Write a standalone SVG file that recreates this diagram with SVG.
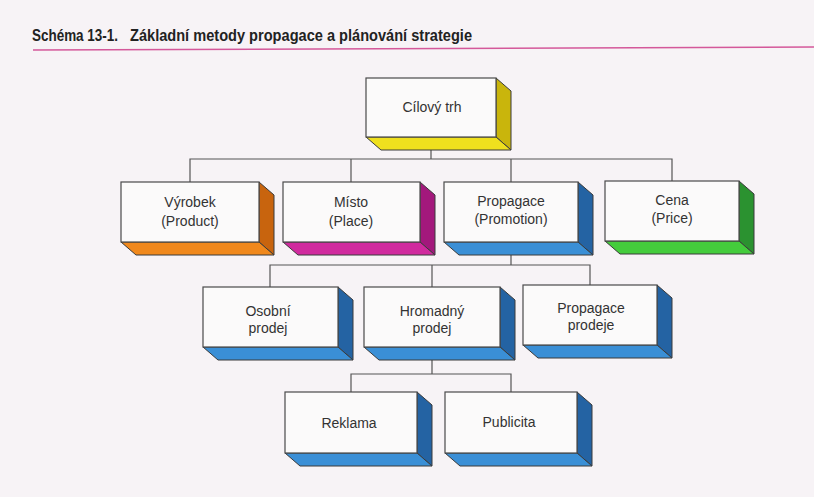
<svg xmlns="http://www.w3.org/2000/svg" width="814" height="497" viewBox="0 0 814 497">
<style>
.front{fill:#fbfafa;stroke:#4a4a4a;stroke-width:1.2}
.side{stroke:#3a3a3a;stroke-width:1;stroke-linejoin:round}
.lbl{font-family:"Liberation Sans",Arial,sans-serif;font-size:14px;fill:#333;text-anchor:middle}
.conn{fill:none;stroke:#555;stroke-width:1.2}
.title{font-family:"Liberation Sans",Arial,sans-serif;font-size:16px;font-weight:bold;fill:#222}
</style>
<rect width="814" height="497" fill="#f7f3f6"/>
<g id="title">
<text class="title" x="32" y="41" textLength="86" lengthAdjust="spacingAndGlyphs">Schéma 13-1.</text>
<text class="title" x="130" y="41" textLength="342" lengthAdjust="spacingAndGlyphs">Základní metody propagace a plánování strategie</text>
<line x1="33" y1="50" x2="814" y2="47" stroke="#d4589a" stroke-width="1.5"/>
</g>
<g id="connectors">
<path class="conn" d="M431 150V159M190 182V159H672V182M351 159V182M511 159V182"/>
<path class="conn" d="M511 255V265M270 287V265H590V285M432 265V287"/>
<path class="conn" d="M432 360V374M351 392V374H511V392"/>
</g>
<g id="cilovy-trh">
<polygon class="side" fill="#c9b50c" points="496,78 511,91 511,150 496,137"/>
<polygon class="side" fill="#efe01e" points="366,137 496,137 511,150 381,150"/>
<rect class="front" x="366" y="78" width="130" height="59"/>
<text class="lbl" x="432" y="112">Cílový trh</text>
</g>
<g id="vyrobek">
<polygon class="side" fill="#c8640e" points="259,182 274,195 274,255 259,242"/>
<polygon class="side" fill="#f0881c" points="121,242 259,242 274,255 136,255"/>
<rect class="front" x="121" y="182" width="138" height="60"/>
<text class="lbl" x="190" y="207">Výrobek</text>
<text class="lbl" x="190" y="226">(Product)</text>
</g>
<g id="misto">
<polygon class="side" fill="#a3187c" points="420,182 435,195 435,255 420,242"/>
<polygon class="side" fill="#d02a9e" points="283,242 420,242 435,255 298,255"/>
<rect class="front" x="283" y="182" width="137" height="60"/>
<text class="lbl" x="351" y="207">Místo</text>
<text class="lbl" x="351" y="226">(Place)</text>
</g>
<g id="propagace">
<polygon class="side" fill="#2463a3" points="578,182 593,195 593,255 578,242"/>
<polygon class="side" fill="#3a8fd6" points="444,242 578,242 593,255 459,255"/>
<rect class="front" x="444" y="182" width="134" height="60"/>
<text class="lbl" x="511" y="206">Propagace</text>
<text class="lbl" x="511" y="224">(Promotion)</text>
</g>
<g id="cena">
<polygon class="side" fill="#2b9230" points="739,181 754,194 754,254 739,241"/>
<polygon class="side" fill="#44cc3c" points="605,241 739,241 754,254 620,254"/>
<rect class="front" x="605" y="181" width="134" height="60"/>
<text class="lbl" x="672" y="205">Cena</text>
<text class="lbl" x="672" y="223">(Price)</text>
</g>
<g id="osobni-prodej">
<polygon class="side" fill="#2463a3" points="338,287 353,300 353,360 338,347"/>
<polygon class="side" fill="#3a8fd6" points="203,347 338,347 353,360 218,360"/>
<rect class="front" x="203" y="287" width="135" height="60"/>
<text class="lbl" x="268" y="316">Osobní</text>
<text class="lbl" x="268" y="333">prodej</text>
</g>
<g id="hromadny-prodej">
<polygon class="side" fill="#2463a3" points="500,287 515,300 515,360 500,347"/>
<polygon class="side" fill="#3a8fd6" points="364,347 500,347 515,360 379,360"/>
<rect class="front" x="364" y="287" width="136" height="60"/>
<text class="lbl" x="432" y="316">Hromadný</text>
<text class="lbl" x="432" y="333">prodej</text>
</g>
<g id="propagace-prodeje">
<polygon class="side" fill="#2463a3" points="657,285 672,298 672,358 657,345"/>
<polygon class="side" fill="#3a8fd6" points="523,345 657,345 672,358 538,358"/>
<rect class="front" x="523" y="285" width="134" height="60"/>
<text class="lbl" x="591" y="313">Propagace</text>
<text class="lbl" x="591" y="330">prodeje</text>
</g>
<g id="reklama">
<polygon class="side" fill="#2463a3" points="417,392 432,405 432,466 417,453"/>
<polygon class="side" fill="#3a8fd6" points="285,453 417,453 432,466 300,466"/>
<rect class="front" x="285" y="392" width="132" height="61"/>
<text class="lbl" x="349" y="428">Reklama</text>
</g>
<g id="publicita">
<polygon class="side" fill="#2463a3" points="577,392 592,405 592,466 577,453"/>
<polygon class="side" fill="#3a8fd6" points="445,453 577,453 592,466 460,466"/>
<rect class="front" x="445" y="392" width="132" height="61"/>
<text class="lbl" x="509" y="427">Publicita</text>
</g>
</svg>
